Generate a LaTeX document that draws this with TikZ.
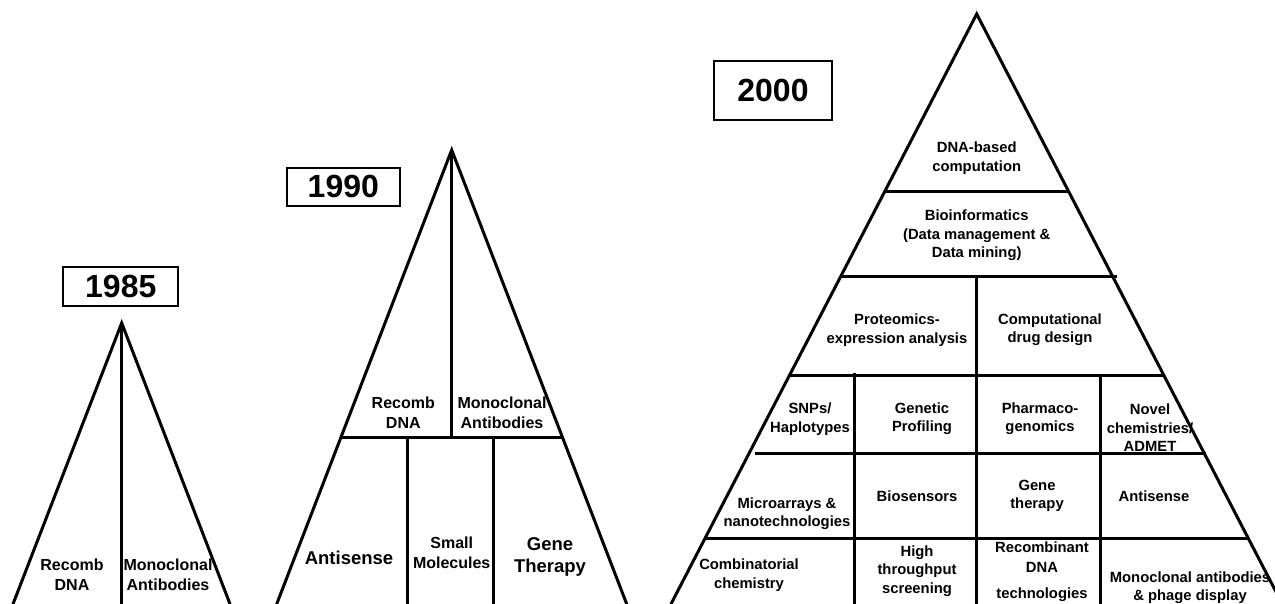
\documentclass[tikz,border=0pt]{standalone}
\usepackage{fontspec}
\setmainfont{Liberation Sans}
\begin{document}
\begin{tikzpicture}[x=1pt,y=-1pt,
  edge/.style={line width=3pt, line cap=round, line join=miter},
  div/.style={line width=3pt},
  yr/.style={draw, line width=1.9pt, inner sep=0pt, font=\fontsize{32}{36}\selectfont\bfseries},
  tbig/.style={align=center, inner sep=0pt, font=\fontsize{18.5}{22}\selectfont\bfseries},
  tmid/.style={align=center, inner sep=0pt, font=\fontsize{16}{20}\selectfont\bfseries},
  tsm/.style={align=center, inner sep=0pt, font=\fontsize{14.8}{18.4}\selectfont\bfseries}
]
\useasboundingbox (0,0) rectangle (1275,604);
\clip (0,0) rectangle (1275,604);

% ---------- 1985 ----------
\node[yr, minimum width=115pt, minimum height=39pt] (y85) at (120.8,286.3) {1985};
\coordinate (a85) at (121.7,323);
\coordinate (l85) at (13,604);
\coordinate (r85) at (230,604);
\coordinate (b85) at (121.7,604);
\draw[edge] (l85) -- (a85) -- (r85);
\draw[div] (a85) -- (b85);
\node[tmid] (rd85) at (72,575) {Recomb\\DNA};
\node[tmid] (ma85) at (168,575) {Monoclonal\\Antibodies};

% ---------- 1990 ----------
\node[yr, minimum width=113pt, minimum height=38pt] (y90) at (343.3,186.7) {1990};
\coordinate (a90) at (451.7,150);
\coordinate (l90) at (276.7,604);
\coordinate (r90) at (626.7,604);
\coordinate (hl90) at (340.8,437.7);
\coordinate (hr90) at (562.6,437.7);
\coordinate (hm90) at (451.7,437.7);
\coordinate (v1t90) at (407.3,437.7);
\coordinate (v1b90) at (407.3,604);
\coordinate (v2t90) at (493.3,437.7);
\coordinate (v2b90) at (493.3,604);
\draw[edge] (l90) -- (a90) -- (r90);
\draw[div] (a90) -- (hm90);
\draw[div] (hl90) -- (hr90);
\draw[div] (v1t90) -- (v1b90);
\draw[div] (v2t90) -- (v2b90);
\node[tmid] (rd90) at (403.3,413) {Recomb\\DNA};
\node[tmid] (ma90) at (502,413) {Monoclonal\\Antibodies};
\node[tbig] (as90) at (349,558) {Antisense};
\node[tmid] (sm90) at (451.7,553) {Small\\Molecules};
\node[tbig] (gt90) at (550,557) {Gene\\Therapy};

% ---------- 2000 ----------
\node[yr, minimum width=118pt, minimum height=59pt] (y00) at (773,90.5) {2000};
\coordinate (a00) at (976.7,14);
\coordinate (l00) at (671,604);
\coordinate (r00) at (1282.3,604);
\draw[edge] (l00) -- (a00) -- (r00);
% horizontal dividers
\coordinate (h1l) at (885.7,191.7);  \coordinate (h1r) at (1068.7,191.7);
\coordinate (h2l) at (841.7,277);    \coordinate (h2r) at (1116.7,277);
\coordinate (h3l) at (789.3,375.7);  \coordinate (h3r) at (1164.5,375.7);
\coordinate (h4l) at (755,453.5);    \coordinate (h4r) at (1206,453.5);
\coordinate (h5l) at (705,538.3);    \coordinate (h5r) at (1249,538.3);
\draw[div] (h1l) -- (h1r);
\draw[div] (h2l) -- (h2r);
\draw[div] (h3l) -- (h3r);
\draw[div] (h4l) -- (h4r);
\draw[div] (h5l) -- (h5r);
% vertical dividers
\coordinate (vmt) at (976.7,277);    \coordinate (vmb) at (976.7,604);
\coordinate (vlt) at (854.3,373);    \coordinate (vlb) at (854.3,604);
\coordinate (vrt) at (1100,375.7);   \coordinate (vrb) at (1100,604);
\draw[div] (vmt) -- (vmb);
\draw[div] (vlt) -- (vlb);
\draw[div] (vrt) -- (vrb);
% labels
\node[tsm] (dna) at (976.7,158.3) {DNA-based\\computation};
\node[tsm] (bio) at (976.7,235.5) {Bioinformatics\\(Data management \&\\Data mining)};
\node[tsm] (prot) at (897,330) {Proteomics-\\expression analysis};
\node[tsm] (comp) at (1050,330) {Computational\\drug design};
\node[tsm] (snp) at (810,419) {SNPs/\\Haplotypes};
\node[tsm] (gen) at (922,419) {Genetic\\Profiling};
\node[tsm] (pha) at (1040,419) {Pharmaco-\\genomics};
\node[tsm] (nov) at (1150,428) {Novel\\chemistries/\\ADMET};
\node[tsm] (mic) at (787,514) {Microarrays \&\\nanotechnologies};
\node[tsm] (bios) at (917,496) {Biosensors};
\node[tsm] (gth) at (1037,496) {Gene\\therapy};
\node[tsm] (anti) at (1154,496) {Antisense};
\node[tsm] (comb) at (749,575) {Combinatorial\\chemistry};
\node[tsm] (hts) at (917,571) {High\\throughput\\screening};
\node[tsm] (rec) at (1042,571.7) {Recombinant\\[1.5pt]DNA\\[8pt]technologies};
\node[tsm] (mab) at (1190,587.5) {Monoclonal antibodies\\\& phage display};
\end{tikzpicture}
\end{document}
